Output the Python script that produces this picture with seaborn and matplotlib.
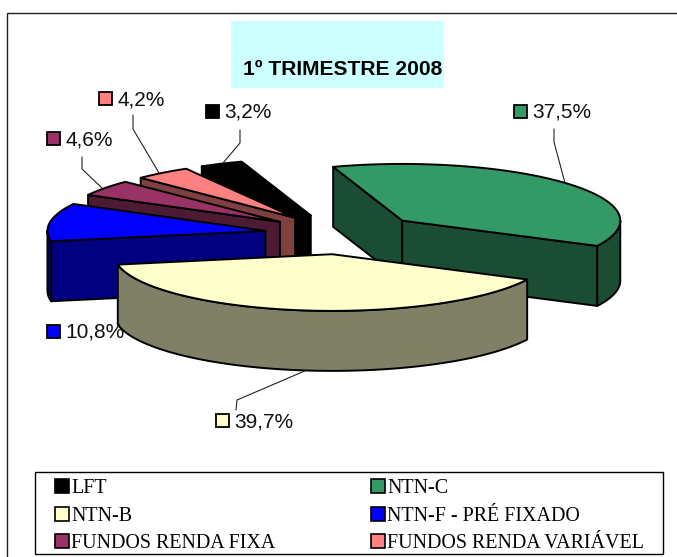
import numpy as np
import pandas as pd
import seaborn as sns
import matplotlib.pyplot as plt
from matplotlib.patches import Patch, Rectangle

sns.set_theme(style="white")
plt.rcParams['font.family'] = ['Liberation Sans', 'DejaVu Sans']

# clockwise order, same as the legend source
categories = ["LFT", "NTN-C", "NTN-B", "NTN-F - PRÉ FIXADO", "FUNDOS RENDA FIXA", "FUNDOS RENDA VARIÁVEL"]
shares = [3.2, 37.5, 39.7, 10.8, 4.6, 4.2]
top_colors = ["#000000", "#339966", "#FFFFCC", "#0000FF", "#993366", "#FF8080"]
side_colors = ["#000000", "#1B4D35", "#808066", "#000080", "#4D1A33", "#804040"]
title = "1º TRIMESTRE 2008"

# pie geometry, in pixels
cx, cy = 343, 234
radius, squash, depth, explode = 218, 0.26, 60, 78.5
start_angle = -30

# where the labels sit: swatch left, swatch top
label_pos = {"LFT": (206, 105), "NTN-C": (514, 105), "NTN-B": (216, 414),
             "NTN-F - PRÉ FIXADO": (47, 325), "FUNDOS RENDA FIXA": (47, 132),
             "FUNDOS RENDA VARIÁVEL": (99, 92)}
leaders = {"LFT": [(223, 163), (240, 143), (240, 130)],
           "NTN-C": [(565, 183), (554, 142), (554, 129)],
           "NTN-B": [(307, 370), (237, 400), (236, 410)],
           "FUNDOS RENDA FIXA": [(102, 188), (82, 169), (82, 157)],
           "FUNDOS RENDA VARIÁVEL": [(159, 173), (133, 129), (133, 115)]}

df = pd.DataFrame({"name": categories, "share": shares, "top": top_colors, "side": side_colors})
df["a0"] = start_angle + np.r_[0, np.cumsum(df["share"])[:-1]] * 3.6
df["a1"] = df["a0"] + df["share"] * 3.6


def rim(ox, oy, a0, a1, dy=0.0):
    a = np.radians(np.linspace(a0, a1, 80))
    return np.c_[ox + radius * np.sin(a), oy - radius * squash * np.cos(a) + dy]


fig = plt.figure(figsize=(6.77, 5.57), dpi=100)
ax = fig.add_axes([0, 0, 1, 1])
ax.set_xlim(0, 677)
ax.set_ylim(557, 0)
ax.axis("off")

ax.add_patch(Rectangle((6.5, 13), 672, 545, fc="white", ec="#222222", lw=1.0, clip_on=False))
ax.add_patch(Rectangle((231, 21), 213, 67, fc="#CCFFFF", ec="none"))
ax.text(342.5, 69.5, title, ha="center", va="center", fontsize=15.1, fontweight="bold", color="black")

# back to front: the small slices first, then green, then the yellow one
for i in [0, 5, 4, 3, 1, 2]:
    row = df.iloc[i]
    mid = np.radians((row["a0"] + row["a1"]) / 2)
    ox = cx + explode * np.sin(mid)
    oy = cy - explode * squash * np.cos(mid)
    style = dict(fc=row["side"], ec="black", lw=1.4, joinstyle="round")

    # radial walls that face the viewer
    for ang, visible in [(row["a0"], np.sin(np.radians(row["a0"])) < 0),
                         (row["a1"], np.sin(np.radians(row["a1"])) > 0)]:
        if visible:
            p = rim(ox, oy, ang, ang)[0]
            ax.fill([ox, p[0], p[0], ox], [oy, p[1], p[1] + depth, oy + depth], **style)

    # outer wall, only the front half of the ellipse shows
    lo = max(row["a0"], 90)
    hi = min(row["a1"], 270)
    if lo < hi:
        upper = rim(ox, oy, lo, hi)
        lower = rim(ox, oy, lo, hi, depth)[::-1]
        ax.fill(*np.r_[upper, lower].T, **style)

    top = np.r_[[[ox, oy]], rim(ox, oy, row["a0"], row["a1"])]
    ax.fill(*top.T, fc=row["top"], ec="black", lw=1.4, joinstyle="round")

for _, row in df.iterrows():
    x, y = label_pos[row["name"]]
    ax.add_patch(Rectangle((x, y), 13, 13, fc=row["top"], ec="black", lw=1.3, zorder=5))
    ax.text(x + 18, y + 7.5, f"{row['share']:.1f}%".replace(".", ","), fontsize=15,
            ha="left", va="center", color="#111111", zorder=5)
    if row["name"] in leaders:
        ax.plot(*np.array(leaders[row["name"]]).T, color="#222222", lw=0.8)

# legend frame is separate, its padding is wider than it is tall
ax.add_patch(Rectangle((35, 472), 628, 82, fc="white", ec="black", lw=1.0))
handles = {n: Patch(fc=c, ec="black", lw=1.2) for n, c in zip(categories, top_colors)}
order = ["LFT", "NTN-B", "FUNDOS RENDA FIXA", "NTN-C", "NTN-F - PRÉ FIXADO", "FUNDOS RENDA VARIÁVEL"]
leg = ax.legend([handles[n] for n in order], order, ncol=2, loc="lower left",
                bbox_to_anchor=(55 / 677, 1 - 553 / 557), frameon=False,
                borderaxespad=0, borderpad=0, columnspacing=4.8,
                handlelength=0.7, handleheight=0.7, handletextpad=0.1, labelspacing=0.42,
                prop={"family": "Liberation Serif", "size": 14.4})
for t in leg.get_texts():
    t.set_color("black")

plt.savefig("out.png", dpi=100)
